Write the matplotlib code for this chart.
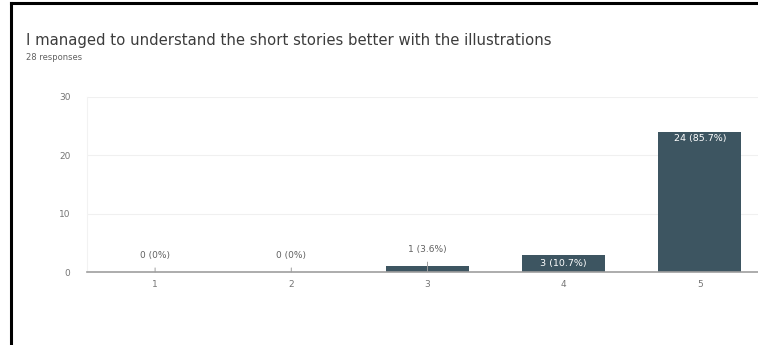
import numpy as np
import matplotlib.pyplot as plt
from matplotlib.lines import Line2D

# Data
categories = ['1', '2', '3', '4', '5']
counts = [0, 0, 1, 3, 24]
labels = ['0 (0%)', '0 (0%)', '1 (3.6%)', '3 (10.7%)', '24 (85.7%)']
y_ticks = [0, 10, 20, 30]

bar_color = '#3d5561'
tick_color = '#757575'

fig = plt.figure(figsize=(7.58, 3.45), dpi=100)
ax = fig.add_axes([87 / 758, 73 / 345, 681 / 758, 175 / 345])

x = np.arange(1, len(categories) + 1)
ax.bar(x, counts, width=0.61, color=bar_color, zorder=3)

ax.set_xlim(0.5, 5.5)
ax.set_ylim(0, 30)
ax.set_yticks(y_ticks)
ax.set_xticks(x)
ax.set_xticklabels(categories)
ax.tick_params(axis='both', length=0, labelsize=6.5, labelcolor=tick_color)
ax.tick_params(axis='y', pad=12)
ax.tick_params(axis='x', pad=6)
ax.grid(axis='y', color='#f0f0f0', linewidth=0.8, zorder=0)

for side in ['top', 'right']:
    ax.spines[side].set_visible(False)
ax.spines['left'].set_color('#f2f2f2')
ax.spines['bottom'].set_color('#9e9e9e')
ax.spines['bottom'].set_linewidth(1.2)
ax.spines['bottom'].set_zorder(4)

# value labels
for xi, c, lab in zip(x, counts, labels):
    if c >= 3:
        va_y = c - 0.4 if c > 10 else c / 2
        ax.text(xi, va_y, lab, ha='center', va='top' if c > 10 else 'center',
                fontsize=6.8, color='white', zorder=5)
    else:
        ax.annotate(lab, xy=(xi, 0), xytext=(xi, c + 2.9), ha='center', va='center',
                    fontsize=6.5, color='#616161', zorder=5,
                    arrowprops=dict(arrowstyle='-', color='#9e9e9e', lw=0.7,
                                    shrinkA=4, shrinkB=0))

# title and subtitle
fig.text(26 / 758, 1 - 40 / 345, 'I managed to understand the short stories better with the illustrations',
         fontsize=10.7, color='#3c3c3c', va='center')
fig.text(26 / 758, 1 - 57 / 345, '28 responses', fontsize=6, color='#616161', va='center')

# screenshot border
fig.add_artist(Line2D([11 / 758, 11 / 758], [0, 1 - 3 / 345], color='black', lw=2.2))
fig.add_artist(Line2D([11 / 758, 1], [1 - 3 / 345, 1 - 3 / 345], color='black', lw=2.2))

fig.savefig('out.png', dpi=100)
